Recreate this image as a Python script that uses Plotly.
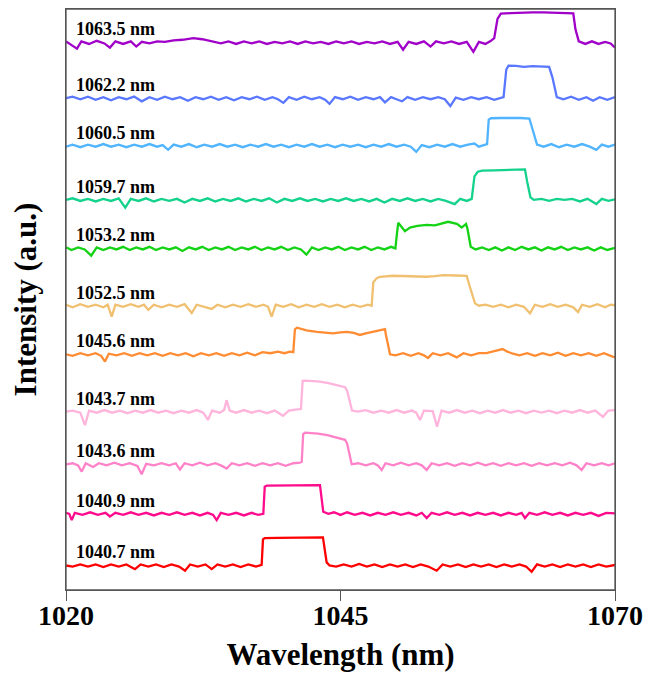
import plotly.graph_objects as go

# ---- data: (wavelength nm, relative intensity a.u.) ----
labels = ["1063.5 nm", "1062.2 nm", "1060.5 nm", "1059.7 nm", "1053.2 nm", "1052.5 nm",
          "1045.6 nm", "1043.7 nm", "1043.6 nm", "1040.9 nm", "1040.7 nm"]
offsets = [10.50, 9.43, 8.52, 7.48, 6.55, 5.45, 4.52, 3.42, 2.41, 1.46, 0.47]
colors = ["#A000C8", "#5A78FF", "#50B4FF", "#14D28C", "#14D214", "#F0C070",
          "#FF8C32", "#FFB4DC", "#FF82C8", "#FF0A8C", "#FF0000"]

s1063_5 = [(1020.0,0.02),(1020.4,-0.03),(1021.0,-0.12),(1021.4,0.02),(1022.1,-0.03),(1022.8,0.03),(1023.5,-0.02),(1024.0,-0.10),(1024.5,0.02),(1025.2,-0.03),(1025.9,0.02),(1026.4,-0.08),(1026.9,0.01),(1027.6,-0.02),(1028.3,0.02),(1029.0,0.01),(1029.8,0.04),(1030.6,0.05),(1031.6,0.08),(1032.4,0.06),(1033.4,0.02),(1034.1,-0.02),(1034.8,0.02),(1035.5,-0.03),(1036.2,0.02),(1036.9,-0.02),(1037.6,0.02),(1038.3,-0.03),(1039.0,0.01),(1039.7,-0.02),(1040.4,0.02),(1041.1,-0.03),(1041.8,0.02),(1042.5,-0.02),(1043.2,0.01),(1043.9,-0.03),(1044.6,0.02),(1045.3,-0.02),(1046.0,0.02),(1046.7,-0.03),(1047.4,0.01),(1048.1,-0.02),(1048.8,0.02),(1049.5,-0.03),(1050.2,0.01),(1050.7,-0.14),(1051.2,0.01),(1051.9,-0.03),(1052.6,0.02),(1053.2,-0.08),(1053.7,0.02),(1054.4,-0.02),(1055.1,0.02),(1055.8,-0.03),(1056.5,0.01),(1057.1,-0.18),(1057.6,0.01),(1058.2,-0.03),(1058.7,0.03),(1059.0,0.08),(1059.3,0.45),(1059.6,0.55),(1060.5,0.56),(1061.5,0.57),(1062.5,0.575),(1063.5,0.575),(1064.5,0.57),(1065.5,0.565),(1066.2,0.555),(1066.4,0.25),(1066.7,0.02),(1067.3,-0.03),(1067.9,0.02),(1068.5,-0.03),(1069.1,0.01),(1069.6,-0.02),(1070.0,-0.10)]

s1062_2 = [(1020.0,0.0),(1020.6,0.03),(1021.3,-0.02),(1022.0,0.03),(1022.7,-0.03),(1023.4,0.02),(1024.1,-0.04),(1024.8,0.02),(1025.5,-0.02),(1026.2,0.03),(1026.9,-0.06),(1027.6,0.02),(1028.3,-0.03),(1029.0,0.03),(1029.7,-0.02),(1030.4,0.02),(1031.1,-0.05),(1031.8,0.02),(1032.5,-0.02),(1033.2,0.03),(1033.9,-0.03),(1034.6,0.02),(1035.3,-0.04),(1036.0,0.02),(1036.7,-0.02),(1037.4,0.03),(1038.1,-0.03),(1038.8,0.02),(1039.3,-0.02),(1039.8,-0.09),(1040.3,0.02),(1041.0,-0.03),(1041.7,0.03),(1042.4,-0.02),(1043.1,0.02),(1043.6,-0.03),(1044.0,-0.11),(1044.5,0.02),(1045.2,-0.02),(1045.9,0.03),(1046.6,-0.03),(1047.3,0.02),(1048.0,-0.02),(1048.6,0.02),(1049.05,-0.08),(1049.6,0.02),(1050.1,-0.02),(1050.6,-0.06),(1051.1,0.02),(1051.8,-0.03),(1052.5,0.02),(1053.2,-0.02),(1053.9,0.02),(1054.5,-0.02),(1055.0,-0.15),(1055.5,0.01),(1056.2,-0.03),(1056.9,0.02),(1057.6,-0.02),(1058.3,0.02),(1059.0,-0.03),(1059.6,0.01),(1059.85,0.02),(1060.1,0.55),(1060.3,0.625),(1061.0,0.62),(1061.7,0.60),(1062.5,0.615),(1063.3,0.61),(1064.0,0.60),(1064.3,0.40),(1064.7,0.02),(1065.3,-0.02),(1066.0,0.03),(1066.7,-0.03),(1067.4,0.02),(1068.0,-0.05),(1068.6,0.02),(1069.3,-0.03),(1070.0,0.02)]

s1060_5 = [(1020.0,-0.02),(1020.6,0.02),(1021.3,-0.03),(1022.0,0.02),(1022.7,-0.02),(1023.4,0.03),(1024.1,-0.02),(1024.8,0.02),(1025.5,-0.03),(1026.2,0.02),(1026.9,-0.02),(1027.6,0.03),(1028.3,-0.02),(1028.8,0.01),(1029.3,-0.08),(1029.8,0.02),(1030.5,-0.02),(1031.2,0.03),(1031.9,-0.03),(1032.6,0.02),(1033.3,-0.02),(1034.0,0.03),(1034.7,-0.02),(1035.4,0.02),(1036.1,-0.03),(1036.8,0.02),(1037.5,-0.02),(1038.2,0.03),(1038.9,-0.02),(1039.6,0.02),(1040.3,-0.03),(1041.0,0.02),(1041.7,-0.02),(1042.4,0.03),(1043.1,-0.02),(1043.8,0.02),(1044.5,-0.03),(1045.2,0.02),(1045.9,-0.02),(1046.6,0.02),(1047.3,-0.03),(1048.0,0.02),(1048.7,-0.02),(1049.4,0.03),(1050.1,-0.02),(1050.8,0.02),(1051.4,-0.02),(1051.9,-0.12),(1052.4,0.01),(1053.1,-0.03),(1053.8,0.02),(1054.5,-0.02),(1055.2,0.03),(1055.9,-0.02),(1056.6,0.02),(1057.2,0.04),(1057.6,-0.02),(1058.1,0.01),(1058.35,0.03),(1058.5,0.50),(1058.7,0.525),(1059.6,0.53),(1060.5,0.535),(1061.4,0.53),(1062.2,0.52),(1062.5,0.30),(1062.9,0.02),(1063.5,-0.02),(1064.2,0.03),(1064.9,-0.03),(1065.6,0.02),(1066.3,-0.02),(1067.0,0.03),(1067.7,-0.02),(1068.3,-0.08),(1068.8,0.02),(1069.4,-0.02),(1070.0,0.02)]

s1059_7 = [(1020.0,0.0),(1020.6,0.03),(1021.3,-0.02),(1022.0,0.02),(1022.7,-0.03),(1023.4,0.02),(1024.1,-0.02),(1024.8,0.03),(1025.4,-0.15),(1025.9,0.02),(1026.6,-0.02),(1027.3,0.03),(1028.0,-0.03),(1028.7,0.02),(1029.4,-0.02),(1030.1,0.02),(1030.8,-0.05),(1031.5,0.02),(1032.2,-0.02),(1032.9,0.03),(1033.6,-0.03),(1034.3,0.02),(1035.0,-0.02),(1035.7,0.03),(1036.4,-0.03),(1037.1,0.02),(1037.8,-0.02),(1038.5,0.03),(1039.2,-0.05),(1039.9,0.02),(1040.6,-0.02),(1041.3,0.03),(1042.0,-0.02),(1042.7,0.02),(1043.4,-0.03),(1044.1,0.02),(1044.8,-0.02),(1045.5,0.03),(1046.2,-0.02),(1046.9,0.02),(1047.6,-0.03),(1048.3,0.02),(1049.0,-0.05),(1049.7,0.02),(1050.4,-0.02),(1051.1,0.03),(1051.8,-0.02),(1052.5,0.02),(1053.2,-0.03),(1053.9,0.02),(1054.6,-0.02),(1055.4,-0.08),(1055.9,0.02),(1056.5,-0.02),(1056.95,0.02),(1057.2,0.45),(1057.5,0.54),(1057.9,0.56),(1059.0,0.565),(1060.0,0.57),(1061.0,0.575),(1061.8,0.585),(1062.0,0.35),(1062.3,0.05),(1062.6,0.0),(1063.3,0.02),(1064.0,-0.02),(1064.7,0.02),(1065.4,0.0),(1066.1,0.02),(1066.8,-0.03),(1067.5,0.02),(1068.3,-0.08),(1068.8,0.02),(1069.4,-0.02),(1070.0,0.01)]

s1053_2 = [(1020.0,0.02),(1020.5,-0.03),(1021.1,0.02),(1021.7,-0.02),(1022.3,-0.14),(1022.8,0.02),(1023.4,-0.03),(1024.0,0.02),(1024.6,-0.02),(1025.2,0.03),(1025.8,-0.03),(1026.4,0.02),(1027.0,-0.02),(1027.6,0.03),(1028.2,-0.03),(1028.8,0.02),(1029.4,-0.02),(1030.0,0.02),(1030.6,-0.05),(1031.2,0.02),(1031.8,-0.02),(1032.4,0.03),(1033.0,-0.03),(1033.6,0.02),(1034.2,-0.02),(1034.8,0.03),(1035.4,-0.03),(1036.0,0.02),(1036.6,-0.02),(1037.2,0.03),(1037.8,-0.03),(1038.4,0.02),(1039.0,-0.02),(1039.6,0.03),(1040.2,-0.03),(1040.8,0.02),(1041.4,-0.02),(1041.9,-0.12),(1042.4,0.02),(1043.0,-0.03),(1043.6,0.02),(1044.2,-0.02),(1044.8,0.03),(1045.4,-0.03),(1046.0,0.02),(1046.6,-0.02),(1047.2,0.03),(1047.8,-0.03),(1048.4,0.02),(1049.0,-0.02),(1049.6,0.03),(1050.0,0.0),(1050.15,0.30),(1050.26,0.49),(1050.87,0.33),(1051.33,0.40),(1052.0,0.43),(1052.85,0.45),(1053.6,0.44),(1054.2,0.47),(1054.8,0.51),(1055.6,0.47),(1056.04,0.40),(1056.43,0.47),(1056.55,0.39),(1056.86,0.03),(1057.3,-0.02),(1057.9,0.02),(1058.5,-0.03),(1059.1,0.02),(1059.7,-0.04),(1060.3,0.02),(1060.9,-0.03),(1061.5,0.03),(1062.1,-0.02),(1062.7,0.02),(1063.3,-0.04),(1063.9,0.02),(1064.5,-0.02),(1065.1,0.03),(1065.7,-0.03),(1066.3,0.02),(1066.9,-0.02),(1067.5,0.02),(1068.1,-0.04),(1068.7,0.02),(1069.3,-0.03),(1070.0,0.01)]

s1052_5 = [(1020.0,0.02),(1020.6,-0.03),(1021.3,0.03),(1022.0,-0.02),(1022.7,0.02),(1023.4,-0.03),(1023.8,0.02),(1024.16,-0.21),(1024.5,0.02),(1025.2,-0.02),(1025.9,0.03),(1026.6,-0.02),(1027.1,0.02),(1027.5,-0.08),(1028.0,0.02),(1028.7,-0.03),(1029.4,0.02),(1030.1,-0.02),(1030.8,0.03),(1031.45,-0.14),(1031.9,0.02),(1032.6,-0.02),(1033.27,-0.06),(1033.8,0.02),(1034.5,-0.03),(1035.2,0.02),(1035.9,-0.02),(1036.6,0.03),(1037.3,-0.02),(1038.0,0.02),(1038.4,-0.02),(1038.73,-0.21),(1039.1,0.02),(1039.8,-0.02),(1040.5,0.03),(1041.2,-0.03),(1041.9,0.02),(1042.6,-0.02),(1043.3,0.03),(1044.0,-0.02),(1044.7,0.02),(1045.4,-0.03),(1046.1,0.02),(1046.8,-0.02),(1047.5,0.02),(1047.84,0.0),(1047.99,0.45),(1048.3,0.53),(1048.6,0.556),(1049.8,0.575),(1051.0,0.57),(1052.0,0.565),(1052.85,0.556),(1053.6,0.57),(1054.36,0.589),(1055.5,0.58),(1056.49,0.575),(1056.8,0.35),(1057.25,0.046),(1057.6,0.0),(1058.2,0.02),(1058.9,-0.02),(1059.6,0.02),(1060.3,-0.03),(1061.0,0.02),(1061.7,-0.02),(1062.26,-0.146),(1062.7,0.02),(1063.4,-0.02),(1064.1,0.03),(1064.8,-0.02),(1065.5,0.02),(1066.2,-0.03),(1066.63,-0.12),(1067.0,0.02),(1067.7,-0.02),(1068.4,0.03),(1069.1,-0.03),(1069.6,0.02),(1070.0,0.01)]

s1045_6 = [(1020.0,0.0),(1020.6,-0.03),(1021.3,0.02),(1022.0,-0.02),(1022.7,0.02),(1023.2,-0.03),(1023.55,-0.14),(1023.9,0.01),(1024.6,-0.02),(1025.3,0.02),(1026.0,-0.03),(1026.7,0.02),(1027.4,-0.02),(1028.1,0.02),(1028.8,-0.03),(1029.5,0.02),(1030.2,-0.02),(1030.9,0.02),(1031.6,-0.04),(1032.3,0.02),(1033.0,-0.02),(1033.7,0.02),(1034.4,-0.03),(1035.1,0.02),(1035.8,-0.02),(1036.5,0.03),(1037.2,-0.02),(1037.9,0.04),(1038.6,0.02),(1039.3,0.05),(1039.9,0.02),(1040.4,0.05),(1040.70,0.04),(1040.85,0.48),(1041.04,0.51),(1041.9,0.46),(1042.86,0.43),(1043.6,0.41),(1044.32,0.40),(1045.0,0.42),(1045.59,0.43),(1046.2,0.41),(1046.77,0.37),(1047.3,0.40),(1047.87,0.43),(1048.5,0.46),(1049.05,0.48),(1049.14,0.37),(1049.51,0.0),(1050.0,-0.02),(1050.7,0.02),(1051.4,-0.03),(1052.1,0.02),(1052.6,-0.02),(1052.97,-0.07),(1053.4,0.02),(1054.1,-0.02),(1054.8,0.02),(1055.58,-0.06),(1056.2,0.02),(1056.9,-0.02),(1057.6,0.02),(1058.3,0.02),(1059.0,0.06),(1059.77,0.10),(1060.2,0.05),(1060.7,0.01),(1061.3,-0.02),(1062.0,0.02),(1062.7,-0.03),(1063.4,0.02),(1064.1,-0.02),(1064.8,0.03),(1065.5,-0.03),(1066.2,0.02),(1066.9,-0.02),(1067.6,0.02),(1068.3,-0.03),(1069.0,0.02),(1069.6,-0.03),(1070.0,-0.06)]

s1043_7 = [(1020.0,0.0),(1020.6,0.02),(1021.3,-0.02),(1021.73,-0.26),(1022.1,0.02),(1022.8,-0.02),(1023.5,0.03),(1024.2,-0.02),(1024.9,0.02),(1025.6,-0.03),(1026.3,0.02),(1027.0,-0.02),(1027.7,0.03),(1028.4,-0.02),(1029.1,0.02),(1029.8,-0.03),(1030.5,0.02),(1031.2,-0.02),(1031.9,0.03),(1032.5,-0.02),(1032.93,-0.16),(1033.3,0.02),(1034.0,-0.02),(1034.4,0.03),(1034.63,0.22),(1034.9,0.02),(1035.5,-0.02),(1036.2,0.03),(1036.9,-0.02),(1037.6,0.02),(1038.3,-0.03),(1039.0,0.02),(1039.76,-0.08),(1040.3,0.02),(1040.9,0.04),(1041.4,0.05),(1041.55,0.59),(1041.8,0.595),(1042.5,0.585),(1043.13,0.575),(1044.0,0.54),(1044.8,0.50),(1045.41,0.468),(1045.6,0.40),(1046.05,0.02),(1046.6,0.0),(1047.3,0.03),(1048.0,-0.02),(1048.7,0.02),(1049.4,-0.02),(1050.1,0.03),(1050.8,-0.02),(1051.5,0.02),(1051.9,-0.02),(1052.24,-0.16),(1052.6,0.02),(1053.4,0.01),(1053.79,-0.29),(1054.2,0.02),(1054.9,-0.02),(1055.6,0.03),(1056.3,-0.02),(1057.0,0.02),(1057.7,-0.03),(1058.4,0.02),(1059.1,-0.02),(1059.8,0.03),(1060.5,-0.02),(1061.2,0.02),(1061.9,-0.03),(1062.6,0.02),(1063.3,-0.02),(1064.0,0.02),(1064.7,-0.03),(1065.4,0.02),(1066.1,-0.02),(1066.8,0.03),(1067.5,-0.02),(1068.2,0.02),(1068.91,-0.10),(1069.4,0.02),(1070.0,0.03)]

s1043_6 = [(1020.0,0.0),(1020.6,0.02),(1021.1,-0.02),(1021.43,-0.14),(1021.8,0.02),(1022.46,-0.05),(1023.0,0.02),(1023.7,-0.02),(1024.4,0.03),(1025.1,-0.02),(1025.8,0.02),(1026.5,-0.03),(1026.89,-0.19),(1027.3,0.01),(1028.0,-0.02),(1028.7,0.02),(1029.4,-0.02),(1030.0,0.02),(1030.38,-0.10),(1030.8,0.02),(1031.5,-0.02),(1032.2,0.03),(1032.9,-0.02),(1033.6,0.02),(1034.2,-0.03),(1034.63,-0.08),(1035.1,0.02),(1035.8,-0.02),(1036.5,0.02),(1037.2,-0.03),(1037.9,0.02),(1038.6,-0.02),(1039.3,0.02),(1040.0,-0.03),(1040.7,0.02),(1041.3,0.03),(1041.47,0.05),(1041.6,0.58),(1041.77,0.606),(1042.4,0.60),(1042.95,0.59),(1043.8,0.56),(1044.6,0.52),(1045.41,0.47),(1045.6,0.40),(1046.02,0.0),(1046.6,0.02),(1047.3,-0.02),(1048.0,0.02),(1048.4,-0.02),(1048.75,-0.11),(1049.1,0.02),(1049.8,-0.02),(1050.5,0.03),(1051.2,-0.02),(1051.9,0.02),(1052.4,-0.02),(1052.85,-0.11),(1053.3,0.02),(1054.0,-0.02),(1054.7,0.02),(1055.4,-0.03),(1056.1,0.02),(1056.8,-0.02),(1057.5,0.03),(1058.2,-0.02),(1058.9,0.02),(1059.6,-0.03),(1060.3,0.02),(1061.0,-0.02),(1061.7,0.02),(1062.4,-0.03),(1063.1,0.02),(1063.8,-0.02),(1064.5,0.02),(1065.2,-0.02),(1065.9,0.03),(1066.5,-0.02),(1066.96,-0.11),(1067.4,0.02),(1068.1,-0.02),(1068.8,0.02),(1069.4,-0.02),(1070.0,0.02)]

s1040_9 = [(1020.0,0.02),(1020.3,0.0),(1020.52,-0.12),(1020.8,0.02),(1021.5,-0.02),(1022.2,0.03),(1022.9,-0.02),(1023.6,0.02),(1024.0,-0.05),(1024.5,0.02),(1025.2,-0.02),(1025.9,0.03),(1026.6,-0.02),(1027.3,0.02),(1028.0,-0.03),(1028.7,0.02),(1029.4,-0.02),(1030.1,0.03),(1030.8,-0.02),(1031.5,0.02),(1032.2,-0.03),(1032.9,0.02),(1033.4,-0.02),(1033.72,-0.12),(1034.1,0.02),(1034.8,-0.02),(1035.5,0.02),(1036.2,-0.03),(1036.9,0.02),(1037.5,-0.02),(1037.97,0.0),(1038.1,0.52),(1038.3,0.543),(1039.5,0.545),(1040.7,0.55),(1041.9,0.555),(1043.0,0.56),(1043.13,0.55),(1043.43,0.04),(1043.9,0.0),(1044.4,0.03),(1045.0,-0.02),(1045.6,0.03),(1046.3,-0.02),(1047.0,0.02),(1047.7,-0.03),(1048.4,0.02),(1049.1,-0.02),(1049.8,0.03),(1050.5,-0.02),(1051.2,0.02),(1051.9,-0.03),(1052.4,0.02),(1052.85,-0.08),(1053.3,0.02),(1054.0,-0.02),(1054.7,0.03),(1055.4,-0.02),(1056.1,0.02),(1056.8,-0.03),(1057.5,0.02),(1058.2,-0.02),(1058.9,0.02),(1059.6,-0.03),(1060.3,0.02),(1061.0,-0.02),(1061.5,0.02),(1061.8,-0.08),(1062.2,0.02),(1062.9,-0.02),(1063.6,0.03),(1064.3,-0.02),(1065.0,0.02),(1065.7,-0.03),(1066.4,0.02),(1067.1,-0.02),(1067.8,0.02),(1068.5,-0.04),(1069.2,0.02),(1070.0,0.01)]

s1040_7 = [(1020.0,0.0),(1020.6,-0.02),(1021.3,0.02),(1022.0,-0.02),(1022.7,0.02),(1023.4,-0.03),(1024.1,0.02),(1024.8,-0.02),(1025.5,0.02),(1026.28,-0.07),(1026.8,0.02),(1027.5,-0.02),(1028.2,0.02),(1028.9,-0.03),(1029.6,0.02),(1030.3,-0.02),(1030.84,-0.10),(1031.3,0.02),(1032.0,-0.02),(1032.7,0.02),(1033.27,-0.07),(1033.8,0.02),(1034.5,-0.02),(1035.2,0.02),(1035.9,-0.03),(1036.6,0.02),(1037.3,-0.02),(1037.82,0.01),(1037.94,0.50),(1038.1,0.525),(1039.3,0.53),(1040.5,0.535),(1041.7,0.535),(1042.9,0.54),(1043.4,0.54),(1043.74,0.06),(1044.0,0.0),(1044.6,-0.02),(1045.3,0.02),(1046.0,-0.02),(1046.7,0.03),(1047.4,-0.02),(1048.1,0.02),(1048.8,-0.03),(1049.5,0.02),(1050.2,-0.02),(1050.9,0.02),(1051.6,-0.03),(1052.3,0.02),(1053.0,-0.02),(1053.76,-0.10),(1054.3,0.02),(1055.0,-0.02),(1055.7,0.02),(1056.4,-0.03),(1057.1,0.02),(1057.8,-0.02),(1058.5,0.02),(1059.2,-0.03),(1059.9,0.02),(1060.6,-0.02),(1061.3,0.02),(1061.9,-0.02),(1062.41,-0.12),(1062.9,0.02),(1063.6,-0.02),(1064.3,0.02),(1065.0,-0.03),(1065.7,0.02),(1066.4,-0.02),(1067.1,0.02),(1067.8,-0.03),(1068.5,0.02),(1069.2,-0.02),(1070.0,0.01)]

spectra = [s1063_5, s1062_2, s1060_5, s1059_7, s1053_2, s1052_5,
           s1045_6, s1043_7, s1043_6, s1040_9, s1040_7]

x_ticks = [1020, 1045, 1070]

FONT = "Liberation Serif"
FRAME = "#555555"

fig = go.Figure()
for spec, off, col, lab in zip(spectra, offsets, colors, labels):
    xs = [p[0] for p in spec]
    ys = [p[1] + off for p in spec]
    fig.add_trace(go.Scatter(x=xs, y=ys, mode="lines", name=lab,
                             line=dict(color=col, width=2.3), showlegend=False))
    fig.add_annotation(x=1020.75, y=off + 0.25, text="<b>" + lab + "</b>",
                       showarrow=False, xanchor="left", yanchor="middle",
                       font=dict(family=FONT, size=18, color="black"))

# frame around the plotting area (paper coordinates)
fig.add_shape(type="rect", xref="paper", yref="paper", x0=0, y0=0, x1=1, y1=1,
              line=dict(color=FRAME, width=1.3), layer="above")

fig.update_layout(
    width=654, height=667,
    margin=dict(l=58, r=47, t=1, b=85),
    paper_bgcolor="white", plot_bgcolor="white",
    font=dict(family=FONT, color="black"),
)
fig.update_xaxes(
    range=[1020, 1070], tickvals=x_ticks, ticktext=["<b>%d</b>" % v for v in x_ticks],
    ticks="outside", ticklen=10, tickwidth=1, tickcolor=FRAME,
    ticklabelstandoff=-10,
    showline=True, linecolor=FRAME, linewidth=1.2, mirror=True,
    showgrid=False, zeroline=False,
    tickfont=dict(family=FONT, size=28, color="black"),
    title=dict(text="<b>Wavelength (nm)</b>", font=dict(family=FONT, size=31, color="black"), standoff=13),
)
fig.update_yaxes(
    range=[0, 11.14], showticklabels=False, ticks="",
    showline=True, linecolor=FRAME, linewidth=1.2, mirror=True,
    showgrid=False, zeroline=False,
    title=dict(text="<b>Intensity (a.u.)</b>", font=dict(family=FONT, size=31, color="black"), standoff=19),
)

fig.write_html("out.html")
